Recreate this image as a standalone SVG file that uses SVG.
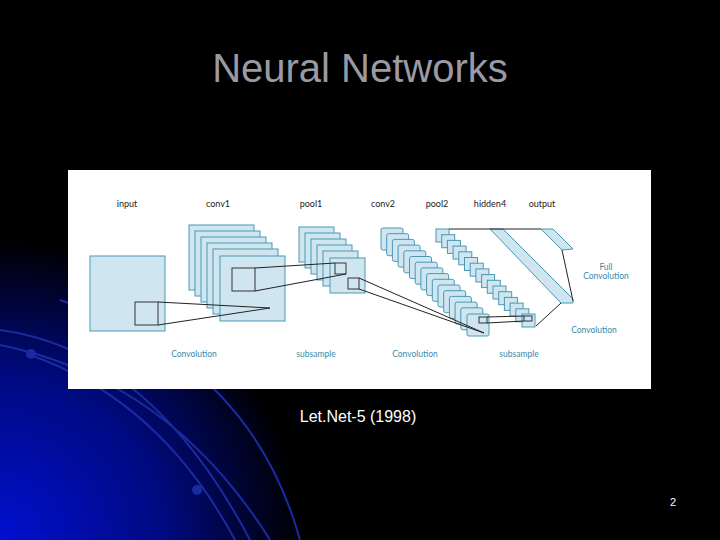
<svg xmlns="http://www.w3.org/2000/svg" width="720" height="540" viewBox="0 0 720 540">
<defs>
<radialGradient id="bg" gradientUnits="userSpaceOnUse" cx="0" cy="540" r="300">
<stop offset="0" stop-color="#0010d0"/><stop offset="0.55" stop-color="#000a80"/><stop offset="1" stop-color="#000"/>
</radialGradient>
<style>
.sq{fill:#cfe6f0;stroke:#4b97b3;stroke-width:1}
.ln{stroke:#222;stroke-width:1;fill:none}
.lb{font-family:Lato,"Liberation Sans",sans-serif;font-size:9px;fill:#222;text-anchor:middle}
.bl{font-family:Lato,"Liberation Sans",sans-serif;font-size:8.5px;fill:#3a8aaa;text-anchor:middle}
.arc{fill:none;stroke:#1a2aa0;stroke-width:2}
</style>
</defs>
<rect width="720" height="540" fill="#000"/>
<rect width="720" height="540" fill="url(#bg)"/>
<g id="arcs">
<path class="arc" d="M0 330 Q150 350 250 540"/>
<path class="arc" d="M0 345 Q170 380 270 540"/>
<path class="arc" d="M30 355 Q160 400 235 540"/>
<path class="arc" d="M60 300 Q250 360 300 540"/>
<circle cx="31" cy="354" r="5" fill="#1a2aa0"/>
<circle cx="197" cy="490" r="5" fill="#1a2aa0"/>
</g>
<text x="360" y="82" font-family="Liberation Sans,sans-serif" font-size="40" fill="#9a9aa4" text-anchor="middle">Neural Networks</text>
<rect x="68" y="170" width="583" height="219" fill="#fff"/>
<g id="labels">
<text class="lb" x="127" y="207">input</text>
<text class="lb" x="218" y="207">conv1</text>
<text class="lb" x="311" y="207">pool1</text>
<text class="lb" x="383" y="207">conv2</text>
<text class="lb" x="437" y="207">pool2</text>
<text class="lb" x="490" y="207">hidden4</text>
<text class="lb" x="542" y="207">output</text>
<text class="bl" x="194" y="357">Convolution</text>
<text class="bl" x="316" y="357">subsample</text>
<text class="bl" x="415" y="357">Convolution</text>
<text class="bl" x="519" y="357">subsample</text>
<text class="bl" x="606" y="270">Full</text>
<text class="bl" x="606" y="279">Convolution</text>
<text class="bl" x="594" y="333">Convolution</text>
</g>
<g id="input"><rect class="sq" x="90" y="256" width="75" height="75"/><rect class="sq" x="135" y="302" width="23" height="23" style="stroke:#333"/></g>
<g id="conv1">
<rect class="sq" x="189" y="225" width="65" height="65"/><rect class="sq" x="195" y="231" width="65" height="65"/><rect class="sq" x="201" y="237" width="65" height="65"/><rect class="sq" x="207" y="243" width="65" height="65"/><rect class="sq" x="213" y="249" width="65" height="65"/><rect class="sq" x="220" y="256" width="65" height="65"/>
<rect class="sq" x="232" y="268" width="23" height="23" style="stroke:#333"/></g>
<g id="pool1">
<rect class="sq" x="299" y="227" width="35" height="35"/><rect class="sq" x="305" y="233" width="35" height="35"/><rect class="sq" x="311" y="239" width="35" height="35"/><rect class="sq" x="317" y="245" width="35" height="35"/><rect class="sq" x="323" y="251" width="35" height="35"/><rect class="sq" x="330" y="258" width="35" height="35"/>
<rect class="sq" x="335" y="263" width="11" height="11" style="stroke:#333"/><rect class="sq" x="348" y="278" width="11" height="11" style="stroke:#333"/></g>
<g id="conv2">
<rect class="sq" x="381" y="228" width="22" height="22" rx="2"/><rect class="sq" x="386.7" y="233.7" width="22" height="22" rx="2"/><rect class="sq" x="392.4" y="239.4" width="22" height="22" rx="2"/><rect class="sq" x="398.1" y="245.1" width="22" height="22" rx="2"/><rect class="sq" x="403.8" y="250.8" width="22" height="22" rx="2"/><rect class="sq" x="409.5" y="256.5" width="22" height="22" rx="2"/><rect class="sq" x="415.2" y="262.2" width="22" height="22" rx="2"/><rect class="sq" x="420.9" y="267.9" width="22" height="22" rx="2"/><rect class="sq" x="426.6" y="273.6" width="22" height="22" rx="2"/><rect class="sq" x="432.3" y="279.3" width="22" height="22" rx="2"/><rect class="sq" x="438" y="285" width="22" height="22" rx="2"/><rect class="sq" x="443.7" y="290.7" width="22" height="22" rx="2"/><rect class="sq" x="449.4" y="296.4" width="22" height="22" rx="2"/><rect class="sq" x="455.1" y="302.1" width="22" height="22" rx="2"/><rect class="sq" x="460.8" y="307.8" width="22" height="22" rx="2"/><rect class="sq" x="467" y="314" width="22" height="22" rx="2"/>
<rect class="sq" x="479" y="317" width="8" height="6" style="stroke:#333"/></g>
<g id="pool2">
<rect class="sq" x="436" y="229" width="13" height="13"/><rect class="sq" x="441.7" y="234.7" width="13" height="13"/><rect class="sq" x="447.4" y="240.4" width="13" height="13"/><rect class="sq" x="453.1" y="246.1" width="13" height="13"/><rect class="sq" x="458.8" y="251.8" width="13" height="13"/><rect class="sq" x="464.5" y="257.5" width="13" height="13"/><rect class="sq" x="470.2" y="263.2" width="13" height="13"/><rect class="sq" x="475.9" y="268.9" width="13" height="13"/><rect class="sq" x="481.6" y="274.6" width="13" height="13"/><rect class="sq" x="487.3" y="280.3" width="13" height="13"/><rect class="sq" x="493" y="286" width="13" height="13"/><rect class="sq" x="498.7" y="291.7" width="13" height="13"/><rect class="sq" x="504.4" y="297.4" width="13" height="13"/><rect class="sq" x="510.1" y="303.1" width="13" height="13"/><rect class="sq" x="515.8" y="308.8" width="13" height="13"/><rect class="sq" x="522" y="314" width="13" height="13"/>
<rect class="sq" x="524" y="316" width="8" height="5" style="stroke:#333"/></g>
<g id="hidden4"><polygon class="sq" points="490,229 503,229 573,299 573,303 561,303"/></g>
<g id="output"><polygon class="sq" points="541,229 553,229 573,249 562,250"/></g>
<g id="connectors">
<path class="ln" d="M158 302 L270 308 L158 325"/>
<path class="ln" d="M255 268 L335 263 M255 291 L346 274"/>
<path class="ln" d="M359 278 L484 333 M359 289 L484 333"/>
<path class="ln" d="M487 317 L524 316 M487 323 L524 321"/>
<path class="ln" d="M449 229 L541 229"/>
<path class="ln" d="M536 326 L561 303 M562 250 L573 301"/>
</g>
<text x="358" y="422" font-family="Liberation Sans,sans-serif" font-size="16" fill="#fff" text-anchor="middle">Let.Net-5 (1998)</text>
<text x="673" y="506" font-family="Liberation Sans,sans-serif" font-size="11" fill="#fff" text-anchor="middle">2</text>
</svg>
